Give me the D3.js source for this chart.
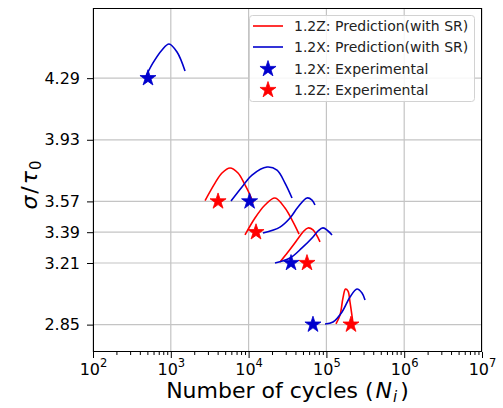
<!DOCTYPE html>
<html>
<head>
<meta charset="utf-8">
<script src="https://cdn.jsdelivr.net/npm/d3@7"></script>
<style>
  html, body { margin: 0; padding: 0; background: #fff; }
  svg { display: block; font-family: "DejaVu Sans", sans-serif; }
</style>
</head>
<body>
<svg id="chart" width="503" height="408"></svg>
<script>
// Stress levels used as y ticks
const yTickValues = [4.29, 3.93, 3.57, 3.39, 3.21, 2.85];
// Decade ticks on the log x axis
const xTickExponents = [2, 3, 4, 5, 6, 7];

// 1.2X predicted life distributions (cycles, sigma/tau0)
const predX_429 = { N: [466, 590, 771, 948, 1202, 1524], s: [4.29, 4.379, 4.455, 4.490, 4.443, 4.332] };
const predX_357 = { N: [5940, 8220, 11060, 17260, 23190, 29370, 36130], s: [3.572, 3.654, 3.724, 3.771, 3.753, 3.677, 3.590] };
const predX_339 = { N: [15310, 25330, 34050, 43150, 56320, 65340, 71310], s: [3.385, 3.420, 3.473, 3.537, 3.590, 3.578, 3.549] };
const predX_321 = { N: [21830, 34050, 48540, 67250, 77970, 90390, 104900, 118100], s: [3.21, 3.239, 3.298, 3.362, 3.397, 3.415, 3.397, 3.374] };
const predX_285 = { N: [95960, 121700, 158800, 201100, 247200, 286900, 313600], s: [2.854, 2.865, 2.924, 3.011, 3.058, 3.035, 2.994] };

// 1.2Z predicted life distributions
const predZ_357 = { N: [2757, 3700, 4550, 5770, 7310, 8990, 10430, 11400], s: [3.575, 3.677, 3.736, 3.765, 3.736, 3.666, 3.607, 3.561] };
const predZ_339 = { N: [8990, 12080, 16250, 21830, 29370, 37220, 44480], s: [3.374, 3.473, 3.549, 3.590, 3.531, 3.450, 3.379] };
const predZ_321 = { N: [25330, 32090, 41880, 50030, 57960, 67250, 82750], s: [3.216, 3.274, 3.344, 3.391, 3.415, 3.403, 3.333] };
const predZ_285 = { N: [132700, 149600, 163400, 176000, 189600, 201100, 219600], s: [2.854, 2.906, 3.006, 3.058, 3.046, 2.982, 2.859] };

// Experimental results
const expX_N = [509, 10300, 35100, 67200];
const expX_s = [4.29, 3.57, 3.21, 2.85];
const expZ_N = [4050, 12450, 56300, 207000];
const expZ_s = [3.57, 3.39, 3.21, 2.85];

const legendLabels = ["1.2Z: Prediction(with SR)", "1.2X: Prediction(with SR)", "1.2X: Experimental", "1.2Z: Experimental"];

const RED = "#ff0000";
const BLUE = "#0000cd";

const svg = d3.select("#chart");
const margin = { left: 93, top: 8, right: 21, bottom: 56 };
const W = 503, H = 408;
const x0 = margin.left, x1 = W - margin.right, y0 = margin.top, y1 = H - margin.bottom;

const x = d3.scaleLog().domain([1e2, 1e7]).range([x0, x1]);
const y = d3.scaleLinear().domain([2.69, 4.70]).range([y1, y0]);

// Grid
const grid = svg.append("g");
grid.selectAll("line.gx").data(xTickExponents).join("line")
  .attr("x1", d => x(Math.pow(10, d))).attr("x2", d => x(Math.pow(10, d)))
  .attr("y1", y0).attr("y2", y1)
  .attr("stroke", "#c4c4c4").attr("stroke-width", 1.2);
grid.selectAll("line.gy").data(yTickValues).join("line")
  .attr("x1", x0).attr("x2", x1)
  .attr("y1", d => y(d)).attr("y2", d => y(d))
  .attr("stroke", "#c4c4c4").attr("stroke-width", 1.2);

// Axes
const xAxis = d3.axisBottom(x)
  .tickValues(xTickExponents.map(e => Math.pow(10, e)))
  .tickSize(6).tickFormat("");
const gx = svg.append("g").attr("transform", `translate(0,${y1})`).call(xAxis);
gx.select(".domain").remove();

// Minor ticks
const minor = [];
for (let e = 2; e < 7; e++) for (let m = 2; m <= 9; m++) minor.push(m * Math.pow(10, e));
const xMinor = d3.axisBottom(x).tickValues(minor).tickSize(3).tickFormat("");
const gxm = svg.append("g").attr("transform", `translate(0,${y1})`).call(xMinor);
gxm.select(".domain").remove();

// x tick labels as 10^n
gx.selectAll(".tick").each(function(d) {
  const t = d3.select(this).append("text")
    .attr("y", 23).attr("fill", "#000")
    .attr("text-anchor", "middle")
    .style("font-size", "16px")
    .style("font-family", "'DejaVu Sans', sans-serif");
  t.append("tspan").text("10");
  t.append("tspan").attr("dy", -8).style("font-size", "11.5px").text(Math.round(Math.log10(d)));
});

const yAxis = d3.axisLeft(y).tickValues(yTickValues).tickSize(6).tickFormat(d3.format(".2f"));
const gy = svg.append("g").attr("transform", `translate(${x0},0)`).call(yAxis);
gy.select(".domain").remove();
gy.selectAll("text").attr("x", -13).attr("fill", "#000")
  .style("font-size", "16px").style("font-family", "'DejaVu Sans', sans-serif");
svg.selectAll(".tick line").attr("stroke", "#000").attr("stroke-width", 1);

// Prediction curves
const line = d3.line()
  .x(d => x(d[0])).y(d => y(d[1]))
  .curve(d3.curveCatmullRom.alpha(0.5));
const toPts = c => c.N.map((n, i) => [n, c.s[i]]);

const curvesZ = [predZ_357, predZ_339, predZ_321, predZ_285];
const curvesX = [predX_429, predX_357, predX_339, predX_321, predX_285];

const plot = svg.append("g");
plot.selectAll("path.z").data(curvesZ).join("path")
  .attr("d", c => line(toPts(c)))
  .attr("fill", "none").attr("stroke", RED).attr("stroke-width", 1.6);
plot.selectAll("path.x").data(curvesX).join("path")
  .attr("d", c => line(toPts(c)))
  .attr("fill", "none").attr("stroke", BLUE).attr("stroke-width", 1.6);

// Experimental stars
const star = d3.symbol().type(d3.symbolStar).size(80);
plot.selectAll("path.ex").data(expX_N.map((n, i) => [n, expX_s[i]])).join("path")
  .attr("d", star)
  .attr("transform", d => `translate(${x(d[0])},${y(d[1])})`)
  .attr("fill", BLUE).attr("stroke", BLUE).attr("stroke-width", 0.8);
plot.selectAll("path.ez").data(expZ_N.map((n, i) => [n, expZ_s[i]])).join("path")
  .attr("d", star)
  .attr("transform", d => `translate(${x(d[0])},${y(d[1])})`)
  .attr("fill", RED).attr("stroke", RED).attr("stroke-width", 0.8);

// Frame
svg.append("rect")
  .attr("x", x0 + 0.5).attr("y", y0 + 0.5)
  .attr("width", x1 - x0 - 1).attr("height", y1 - y0 - 1)
  .attr("fill", "none").attr("stroke", "#000").attr("stroke-width", 1);

// Legend
const lg = svg.append("g");
lg.append("rect")
  .attr("x", 249.5).attr("y", 15.5).attr("width", 225).attr("height", 86).attr("rx", 3)
  .attr("fill", "#fff").attr("fill-opacity", 0.85)
  .attr("stroke", "#d2d2d2").attr("stroke-width", 1);
const rowsY = [26, 47, 69, 90];
const rowKinds = [["line", RED], ["line", BLUE], ["star", BLUE], ["star", RED]];
rowKinds.forEach((k, i) => {
  if (k[0] === "line") {
    lg.append("line").attr("x1", 253).attr("x2", 283).attr("y1", rowsY[i]).attr("y2", rowsY[i])
      .attr("stroke", k[1]).attr("stroke-width", 1.6);
  } else {
    lg.append("path").attr("d", star).attr("transform", `translate(268,${rowsY[i]})`)
      .attr("fill", k[1]).attr("stroke", k[1]).attr("stroke-width", 0.8);
  }
  lg.append("text").attr("x", 294).attr("y", rowsY[i] + 5)
    .style("font-size", "14px").attr("fill", "#222").text(legendLabels[i]);
});

// Axis titles
const xl = svg.append("text")
  .attr("x", (x0 + x1) / 2).attr("y", 398)
  .attr("text-anchor", "middle").style("font-size", "22px").attr("fill", "#000");
xl.append("tspan").text("Number of cycles (");
xl.append("tspan").attr("dx", 2).style("font-style", "italic").text("N");
xl.append("tspan").style("font-style", "italic").style("font-size", "15px").attr("dx", 1).attr("dy", 4).text("i");
xl.append("tspan").attr("dx", 3).attr("dy", -4).text(")");

const yl = svg.append("text")
  .attr("transform", `translate(37,${(y0 + y1) / 2 + 5}) rotate(-90)`)
  .attr("text-anchor", "middle").style("font-size", "22px").attr("fill", "#000");
yl.append("tspan").style("font-style", "italic").text("σ");
yl.append("tspan").attr("dx", 2).text("/");
yl.append("tspan").attr("dx", 2).style("font-style", "italic").text("τ");
yl.append("tspan").style("font-size", "15px").attr("dx", 1).attr("dy", 4).text("0");
</script>
</body>
</html>
